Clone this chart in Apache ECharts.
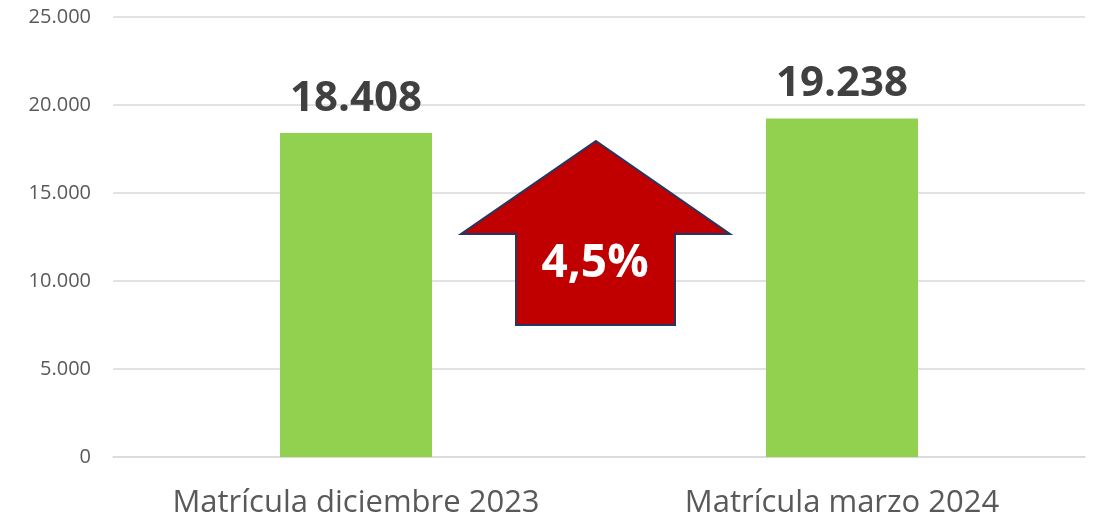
<!DOCTYPE html>
<html>
<head>
<meta charset="utf-8">
<script src="https://cdn.jsdelivr.net/npm/echarts@6/dist/echarts.min.js"></script>
<style>
  html, body { margin: 0; padding: 0; background: #fff; }
  #chart { width: 1096px; height: 521px; }
</style>
</head>
<body>
<div id="chart"></div>
<script>
const categories = ['Matrícula diciembre 2023', 'Matrícula marzo 2024']
const values = [18408, 19238]
const changeLabel = '4,5%'

const fmt = v => String(v).replace(/\B(?=(\d{3})+(?!\d))/g, '.')

const chart = echarts.init(document.getElementById('chart'))

const option = {
  animation: false,
  grid: { left: 113, right: 11, top: 17, bottom: 64 },
  xAxis: {
    type: 'category',
    data: categories,
    axisLine: { lineStyle: { color: '#d9d9d9', width: 1.5 } },
    axisTick: { show: false },
    axisLabel: {
      color: '#595959',
      fontFamily: 'Open Sans',
      fontSize: 31,
      margin: 31
    }
  },
  yAxis: {
    type: 'value',
    min: 0,
    max: 25000,
    interval: 5000,
    axisLine: { show: false },
    axisTick: { show: false },
    splitLine: { lineStyle: { color: '#d9d9d9', width: 1.5 } },
    axisLabel: {
      color: '#595959',
      fontFamily: 'Open Sans',
      fontSize: 20,
      margin: 22,
      formatter: fmt
    }
  },
  series: [
    {
      type: 'bar',
      data: values,
      barWidth: 152,
      itemStyle: { color: '#92d050' },
      label: {
        show: true,
        position: 'top',
        distance: 13,
        color: '#404040',
        fontFamily: 'Open Sans',
        fontWeight: 'bold',
        fontSize: 42,
        formatter: p => fmt(p.value)
      }
    }
  ],
  graphic: [
    {
      type: 'polygon',
      z: 10,
      shape: {
        points: [[596, 141], [730, 234], [675, 234], [675, 325], [516, 325], [516, 234], [461, 234]]
      },
      style: { fill: '#c00000', stroke: '#1f3864', lineWidth: 2 }
    },
    {
      type: 'text',
      z: 11,
      x: 595,
      y: 264,
      style: {
        text: changeLabel,
        fill: '#fff',
        font: 'bold 46px "Open Sans"',
        align: 'center',
        verticalAlign: 'middle'
      }
    }
  ]
}

chart.setOption(option)
</script>
</body>
</html>
